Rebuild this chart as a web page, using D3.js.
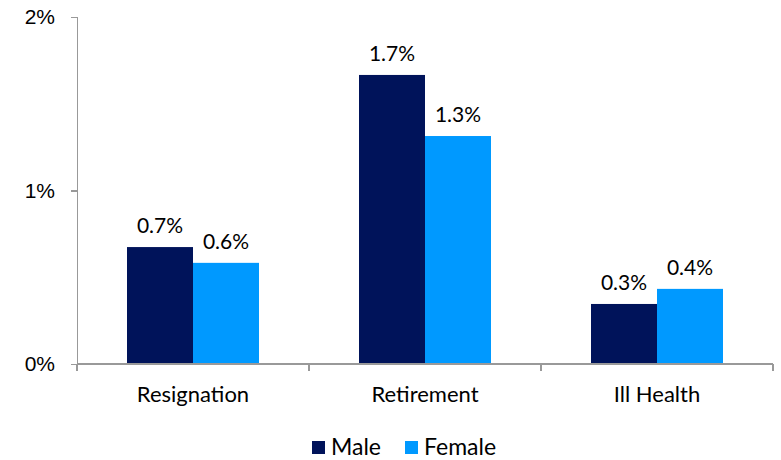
<!DOCTYPE html>
<html lang="en">
  <head>
    <meta charset="utf-8">
    <title>Exits by cause</title>
    <style type="text/css">
body { margin: 0; background: #fff; }
svg { font-family: "Lato", "DejaVu Sans", sans-serif; }
.axis path, .axis line { fill: none; stroke: #999; stroke-width: 1.3px; shape-rendering: crispEdges; }
.axis text { font-size: 21px; fill: #000; }
.axis text.cat { font-size: 22px; }
.label { font-size: 21px; fill: #000; }
.legend text { font-size: 23px; fill: #000; }
    </style>
  </head>
  <body>
    <div id="chart"></div>
    <script src="https://cdn.jsdelivr.net/npm/d3@7"></script>
    <script>
      var categories = ["Resignation", "Retirement", "Ill Health"];
      var seriesNames = ["Male", "Female"];
      var male = [0.674, 1.666, 0.346];
      var female = [0.583, 1.314, 0.433];
      var yTicks = [0, 1, 2];
      var colors = ["#00135A", "#0099FF"];

      var margin = {top: 17, right: 8, bottom: 96, left: 77};
      var width = 781 - margin.left - margin.right;
      var height = 460 - margin.top - margin.bottom;

      var data = categories.map(function(c, i) {
        return {cat: c, values: [male[i], female[i]]};
      });

      var x0 = d3.scaleBand()
        .domain(categories)
        .range([0, width])
        .paddingInner(0)
        .paddingOuter(0);

      var x1 = d3.scaleBand()
        .domain(seriesNames)
        .range([50, x0.bandwidth() - 50]);

      var y = d3.scaleLinear()
        .domain([0, 2])
        .range([height, 0]);

      var svg = d3.select("#chart").append("svg")
          .attr("width", 781)
          .attr("height", 460)
        .append("g")
          .attr("transform", "translate(" + margin.left + "," + margin.top + ")");

      // bars
      var groups = svg.selectAll(".grp")
        .data(data)
        .enter().append("g")
          .attr("class", "grp")
          .attr("transform", function(d) { return "translate(" + x0(d.cat) + ",0)"; });

      groups.selectAll("rect")
        .data(function(d) { return d.values; })
        .enter().append("rect")
          .attr("x", function(d, i) { return x1(seriesNames[i]); })
          .attr("y", function(d) { return y(d); })
          .attr("width", x1.bandwidth())
          .attr("height", function(d) { return height - y(d); })
          .attr("fill", function(d, i) { return colors[i]; });

      groups.selectAll("text")
        .data(function(d) { return d.values; })
        .enter().append("text")
          .attr("class", "label")
          .attr("text-anchor", "middle")
          .attr("x", function(d, i) { return x1(seriesNames[i]) + x1.bandwidth() / 2; })
          .attr("y", function(d) { return y(d) - 14; })
          .text(function(d) { return d3.format(".1f")(d) + "%"; });

      // y axis
      svg.append("g")
          .attr("class", "y axis")
          .call(d3.axisLeft(y).tickValues(yTicks).tickSize(6).tickSizeOuter(6).tickPadding(16)
            .tickFormat(function(d) { return d + "%"; }));

      // x axis with separators between categories
      var xAxis = svg.append("g")
          .attr("class", "x axis")
          .attr("transform", "translate(0," + height + ")");
      xAxis.append("line")
          .attr("x1", 0).attr("x2", width)
          .attr("y1", 0).attr("y2", 0);
      xAxis.selectAll(".sep")
        .data([0].concat(categories.map(function(c) { return x0(c) + x0.bandwidth(); })))
        .enter().append("line")
          .attr("class", "sep")
          .attr("x1", function(d) { return d; }).attr("x2", function(d) { return d; })
          .attr("y1", 0).attr("y2", 7);
      xAxis.selectAll(".cat")
        .data(categories)
        .enter().append("text")
          .attr("class", "cat")
          .attr("text-anchor", "middle")
          .attr("x", function(d) { return x0(d) + x0.bandwidth() / 2; })
          .attr("y", 38)
          .text(function(d) { return d; });

      // legend
      var legend = svg.append("g")
          .attr("class", "legend")
          .attr("transform", "translate(" + (312 - margin.left) + "," + (441 - margin.top) + ")");
      var legendX = [0, 93];
      seriesNames.forEach(function(name, i) {
        legend.append("rect")
            .attr("x", legendX[i]).attr("y", 0)
            .attr("width", 13).attr("height", 13)
            .attr("fill", colors[i]);
        legend.append("text")
            .attr("x", legendX[i] + 19).attr("y", 14)
            .text(name);
      });
    </script>
  </body>
</html>
